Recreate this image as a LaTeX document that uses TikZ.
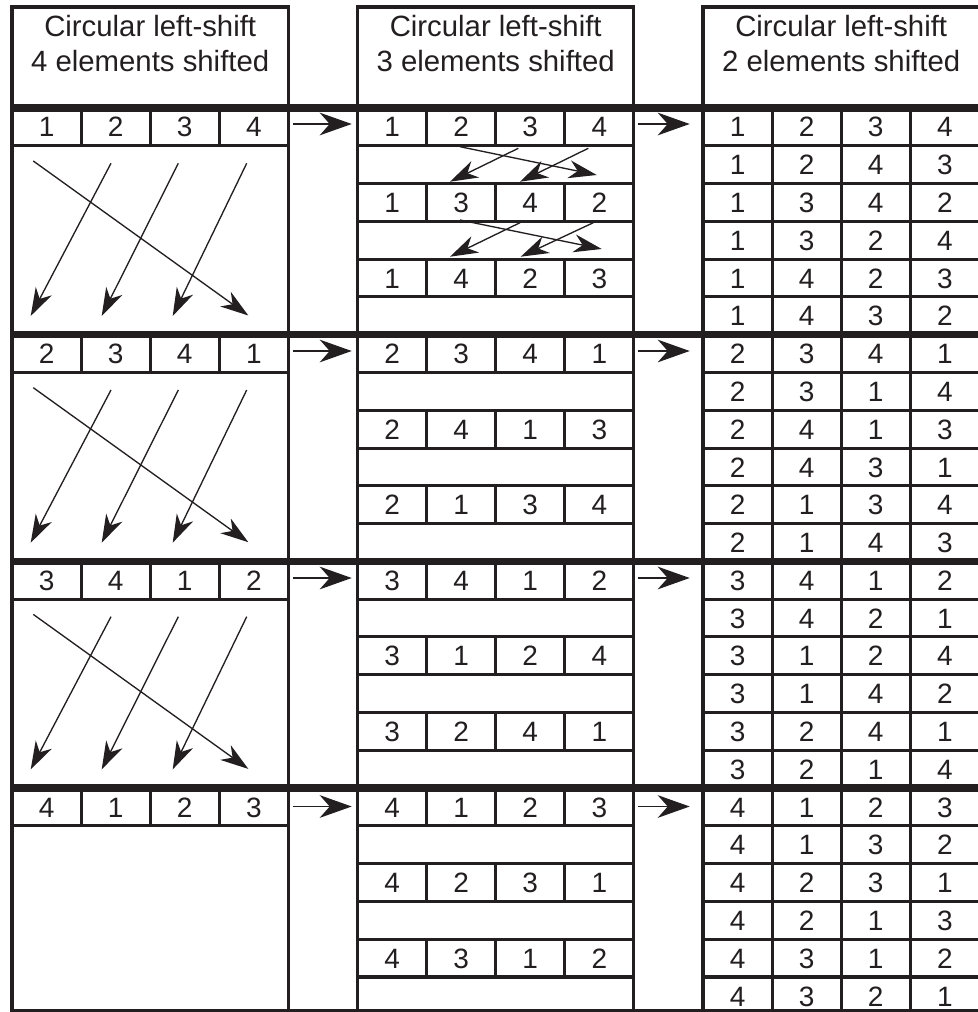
\documentclass[tikz,border=0pt]{standalone}
\usepackage{fontspec}
\setmainfont{Liberation Sans}
\usetikzlibrary{arrows.meta}
\definecolor{ink}{HTML}{231F20}
\begin{document}
\begin{tikzpicture}[x=0.75pt,y=-0.75pt,
  thinline/.style={ink, line width=2.3pt, line join=miter},
  thickline/.style={ink, line width=5.6pt},
  dig/.style={inner sep=0pt, anchor=base, font=\fontsize{21}{25}\selectfont, text=ink},
  hdr/.style={inner sep=0pt, anchor=base, font=\fontsize{22}{26}\selectfont, text=ink},
  gaparrow/.style={ink, line width=1pt, -{Stealth[length=24pt,width=17pt,inset=7.5pt]}},
  swaparrow/.style={ink, line width=1pt, -{Stealth[length=21pt,width=13.5pt,inset=6.5pt]}},
]
\useasboundingbox (0,0) rectangle (977,1012);
\fill[white] (0,0) rectangle (977,1012);
% box outlines
\foreach \b in {0,1,2} {
  \pgfmathsetmacro\xL{12+345.5*\b}
  \pgfmathsetmacro\xR{12+345.5*\b+276.4}
  \draw[thinline] (\xL,7) rectangle (\xR,1010.5);
}
\draw[thinline] (12,1010.5) -- (981,1010.5);
% right box dividers
\foreach \i in {11,12,13} {
  \draw[thinline] ({12+69.1*\i},108) -- ({12+69.1*\i},1010.5);
}
% block lines
\foreach \k in {0,1,2,3} {
  \pgfmathsetmacro\T{108+226.7*\k}
  \pgfmathsetmacro\h{37.78}
  % left box: row 1 dividers and line
  \foreach \i in {1,2,3} {
    \draw[thinline] ({12+69.1*\i},\T) -- ({12+69.1*\i},\T+\h);
  }
  \draw[thinline] (12,\T+\h) -- (288.4,\T+\h);
  % middle box: dividers in rows 1,3,5
  \foreach \r in {0,2,4} {
    \foreach \i in {6,7,8} {
      \draw[thinline] ({12+69.1*\i},{\T+\r*\h}) -- ({12+69.1*\i},{\T+(\r+1)*\h});
    }
  }
  % middle and right box row lines
  \foreach \r in {1,...,5} {
    \draw[thinline] (357.5,{\T+\r*\h}) -- (633.9,{\T+\r*\h});
    \draw[thinline] (703,{\T+\r*\h}) -- (981,{\T+\r*\h});
  }
}
% thick lines
\foreach \k in {0,1,2,3} {
  \draw[thickline] (10.5,{108+226.7*\k}) -- (981,{108+226.7*\k});
}
% headers
\node[hdr] (h0a) at (150.2,36.7) {Circular left-shift};
\node[hdr] (h0b) at (150.2,71.7) {4 elements shifted};
\node[hdr] (h1a) at (495.7,36.7) {Circular left-shift};
\node[hdr] (h1b) at (495.7,71.7) {3 elements shifted};
\node[hdr] (h2a) at (841.2,36.7) {Circular left-shift};
\node[hdr] (h2b) at (841.2,71.7) {2 elements shifted};
% left box digits
\foreach \k/\a/\b/\c/\d in {0/1/2/3/4,1/2/3/4/1,2/3/4/1/2,3/4/1/2/3} {
  \pgfmathsetmacro\Y{108+226.7*\k+29}
  \node[dig] (L\k-1) at (46.55,\Y) {\a};
  \node[dig] (L\k-2) at (115.65,\Y) {\b};
  \node[dig] (L\k-3) at (184.75,\Y) {\c};
  \node[dig] (L\k-4) at (253.85,\Y) {\d};
}
% middle box digits
\foreach \k/\r/\a/\b/\c/\d in {0/0/1/2/3/4,0/2/1/3/4/2,0/4/1/4/2/3,
  1/0/2/3/4/1,1/2/2/4/1/3,1/4/2/1/3/4,
  2/0/3/4/1/2,2/2/3/1/2/4,2/4/3/2/4/1,
  3/0/4/1/2/3,3/2/4/2/3/1,3/4/4/3/1/2} {
  \pgfmathsetmacro\Y{108+226.7*\k+37.78*\r+29}
  \node[dig] (M\k\r-1) at (392.05,\Y) {\a};
  \node[dig] (M\k\r-2) at (461.15,\Y) {\b};
  \node[dig] (M\k\r-3) at (530.25,\Y) {\c};
  \node[dig] (M\k\r-4) at (599.35,\Y) {\d};
}
% right box digits
\foreach \k/\r/\a/\b/\c/\d in {0/0/1/2/3/4,0/1/1/2/4/3,0/2/1/3/4/2,0/3/1/3/2/4,0/4/1/4/2/3,0/5/1/4/3/2,
  1/0/2/3/4/1,1/1/2/3/1/4,1/2/2/4/1/3,1/3/2/4/3/1,1/4/2/1/3/4,1/5/2/1/4/3,
  2/0/3/4/1/2,2/1/3/4/2/1,2/2/3/1/2/4,2/3/3/1/4/2,2/4/3/2/4/1,2/5/3/2/1/4,
  3/0/4/1/2/3,3/1/4/1/3/2,3/2/4/2/3/1,3/3/4/2/1/3,3/4/4/3/1/2,3/5/4/3/2/1} {
  \pgfmathsetmacro\Y{108+226.7*\k+37.78*\r+29}
  \node[dig] (R\k\r-1) at (737.55,\Y) {\a};
  \node[dig] (R\k\r-2) at (806.65,\Y) {\b};
  \node[dig] (R\k\r-3) at (875.75,\Y) {\c};
  \node[dig] (R\k\r-4) at (944.85,\Y) {\d};
}
% gap arrows
\foreach \k/\y in {0/124,1/351,2/578,3/806.5} {
  \coordinate (ga\k s) at (293.3,\y);
  \coordinate (ga\k e) at (351.7,\y);
  \coordinate (gb\k s) at (637.5,\y);
  \coordinate (gb\k e) at (689.7,\y);
  \draw[gaparrow] (ga\k s) -- (ga\k e);
  \draw[gaparrow] (gb\k s) -- (gb\k e);
}
% left box shift arrows
\foreach \k in {0,1,2} {
  \pgfmathsetmacro\T{108+226.7*\k}
  \coordinate (sa\k s) at (33.3,\T+53);
  \coordinate (sa\k e) at (248.3,\T+207.5);
  \coordinate (sb\k s) at (111,\T+55.3);
  \coordinate (sb\k e) at (30.7,\T+208);
  \coordinate (sc\k s) at (178.3,\T+55.3);
  \coordinate (sc\k e) at (101.7,\T+208);
  \coordinate (sd\k s) at (246.7,\T+55.3);
  \coordinate (sd\k e) at (172.7,\T+208);
  \draw[swaparrow] (sa\k s) -- (sa\k e);
  \draw[swaparrow] (sb\k s) -- (sb\k e);
  \draw[swaparrow] (sc\k s) -- (sc\k e);
  \draw[swaparrow] (sd\k s) -- (sd\k e);
}
% middle box swap arrows
\coordinate (m1s) at (460,146.7);
\coordinate (m1e) at (596.7,175);
\coordinate (m2s) at (518.3,148.3);
\coordinate (m2e) at (450,181.7);
\coordinate (m3s) at (588.3,148.3);
\coordinate (m3e) at (520,181.7);
\coordinate (m4s) at (460,220);
\coordinate (m4e) at (601.7,249);
\coordinate (m5s) at (520,222.7);
\coordinate (m5e) at (450,256.7);
\coordinate (m6s) at (593.3,222.7);
\coordinate (m6e) at (520.7,256.7);
\foreach \n in {1,...,6} {
  \draw[swaparrow] (m\n s) -- (m\n e);
}
\end{tikzpicture}
\end{document}
